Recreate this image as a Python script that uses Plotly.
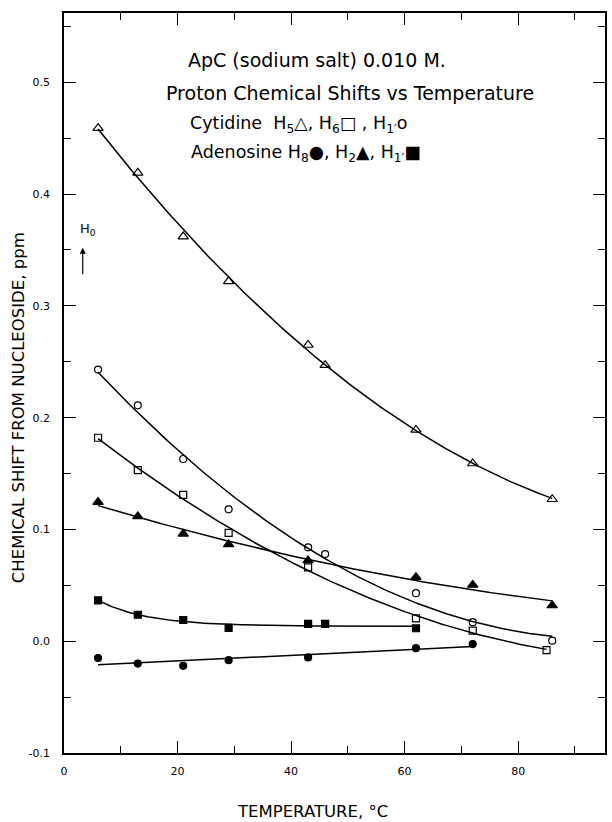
import numpy as np
import plotly.graph_objects as go

# Temperatures (deg C)
temp = [6, 13, 21, 29, 43, 46, 62, 72, 86]
# Cytidine
cyt_h5 = [0.459, 0.419, 0.362, 0.322, 0.265, 0.247, 0.189, 0.159, 0.127]
cyt_h1p = [0.243, 0.211, 0.163, 0.118, 0.084, 0.078, 0.043, 0.017, 0.0005]
cyt_h6_temp = [6, 13, 21, 29, 43, 62, 72, 85]
cyt_h6 = [0.182, 0.153, 0.131, 0.097, 0.066, 0.0205, 0.0095, -0.008]
# Adenosine
ade_h2_temp = [6, 13, 21, 29, 43, 62, 72, 86]
ade_h2 = [0.1245, 0.1117, 0.0961, 0.0866, 0.0722, 0.0573, 0.0504, 0.032]
ade_h1p_temp = [6, 13, 21, 29, 43, 46, 62]
ade_h1p = [0.0365, 0.0237, 0.019, 0.012, 0.0155, 0.0155, 0.0116]
ade_h8_temp = [6, 13, 21, 29, 43, 62, 72]
ade_h8 = [-0.015, -0.020, -0.022, -0.017, -0.0145, -0.0062, -0.0026]

x_ticks = [0, 20, 40, 60, 80]
y_ticks = [-0.1, 0.0, 0.1, 0.2, 0.3, 0.4, 0.5]


def poly_curve(x, y, deg, x0, x1):
    c = np.polyfit(np.array(x, float), np.array(y, float), deg)
    xs = np.linspace(x0, x1, 200)
    return xs, np.polyval(c, xs)


def exp_curve(x, y, x0, x1):
    x = np.array(x, float)
    y = np.array(y, float)
    best = None
    for k in np.linspace(0.01, 0.3, 300):
        A = np.vstack([np.ones_like(x), np.exp(-k * x)]).T
        coef, *_ = np.linalg.lstsq(A, y, rcond=None)
        r = np.sum((A @ coef - y) ** 2)
        if best is None or r < best[0]:
            best = (r, k, coef)
    _, k, coef = best
    xs = np.linspace(x0, x1, 200)
    return xs, coef[0] + coef[1] * np.exp(-k * xs)


fig = go.Figure()
line = dict(color="black", width=1.5)


def add_series(x, y, curve, symbol, size):
    xs, ys = curve
    fig.add_trace(go.Scatter(x=xs, y=ys, mode="lines", line=line,
                             showlegend=False, hoverinfo="skip"))
    fig.add_trace(go.Scatter(x=x, y=y, mode="markers", showlegend=False,
                             marker=dict(symbol=symbol, size=size, color="black",
                                         line=dict(color="black", width=1.2))))


add_series(temp, cyt_h5, poly_curve(temp, cyt_h5, 2, 6, 86), "triangle-up-open", 9)
add_series(temp, cyt_h1p, poly_curve(temp, cyt_h1p, 2, 6, 86), "circle-open", 7)
add_series(cyt_h6_temp, cyt_h6, poly_curve(cyt_h6_temp, cyt_h6, 2, 6, 85), "square-open", 7)
add_series(ade_h2_temp, ade_h2, poly_curve(ade_h2_temp, ade_h2, 2, 6, 86), "triangle-up", 9)
add_series(ade_h1p_temp, ade_h1p, exp_curve(ade_h1p_temp, ade_h1p, 6, 62), "square", 7)
add_series(ade_h8_temp, ade_h8, poly_curve(ade_h8_temp, ade_h8, 1, 6, 72), "circle", 7)

FONT = "DejaVu Sans"
axis_common = dict(showline=True, linewidth=1.5, linecolor="black", mirror="ticks",
                   showgrid=False, zeroline=False, ticks="inside", tickwidth=1.2,
                   ticklen=12, tickcolor="black",
                   tickfont=dict(family=FONT, size=11, color="black"))

fig.update_xaxes(range=[0, 95.3], tickvals=x_ticks, ticktext=[str(v) for v in x_ticks],
                 minor=dict(dtick=10, tick0=0, ticks="inside", ticklen=7, tickwidth=1,
                            tickcolor="black"),
                 ticklabelstandoff=7, **axis_common)
fig.update_yaxes(range=[-0.1, 0.562], tickvals=y_ticks,
                 ticktext=["-0.1" if v < 0 else f"{v:.1f}" for v in y_ticks],
                 minor=dict(dtick=0.05, tick0=0, ticks="inside", ticklen=7, tickwidth=1,
                            tickcolor="black"),
                 ticklabelstandoff=10, **axis_common)

annotations = [
    dict(x=44.5, y=0.520, text="ApC (sodium salt) 0.010 M.", xanchor="center", size=19),
    dict(x=50.4, y=0.490, text="Proton Chemical Shifts vs Temperature", xanchor="center", size=19),
    dict(x=21.8, y=0.4625, text="Cytidine  H<sub>5</sub>△, H<sub>6</sub>□ , H<sub>1′</sub>o", xanchor="left", size=17.5),
    dict(x=22.1, y=0.4365, text="Adenosine H<sub>8</sub>●, H<sub>2</sub>▲, H<sub>1′</sub>■", xanchor="left", size=17.5),
]
for a in annotations:
    size = a.pop("size")
    fig.add_annotation(xref="x", yref="y", showarrow=False, yanchor="middle",
                       font=dict(family=FONT, size=size, color="black"), **a)

fig.add_annotation(xref="x", yref="y", x=4.2, y=0.368, text="H<sub>0</sub>",
                   showarrow=False, font=dict(family=FONT, size=13, color="black"))
fig.add_annotation(xref="x", yref="y", x=3.3, y=0.352, ax=0, ay=28, text="",
                   showarrow=True, arrowhead=2, arrowsize=1, arrowwidth=1.2,
                   arrowcolor="black")

fig.add_annotation(xref="paper", yref="paper", x=-0.085, y=0.466,
                   xanchor="center", yanchor="middle",
                   text="CHEMICAL SHIFT FROM NUCLEOSIDE, ppm", textangle=-90,
                   showarrow=False, font=dict(family=FONT, size=16.5, color="black"))
fig.add_annotation(xref="paper", yref="paper", x=0.4586, y=-0.0797,
                   xanchor="center", yanchor="middle",
                   text="TEMPERATURE, °C", showarrow=False,
                   font=dict(family=FONT, size=16.5, color="black"))

fig.update_layout(width=612, height=822, margin=dict(l=64, r=5, t=13, b=69),
                  paper_bgcolor="white", plot_bgcolor="white", showlegend=False)

fig.write_html("out.html")
